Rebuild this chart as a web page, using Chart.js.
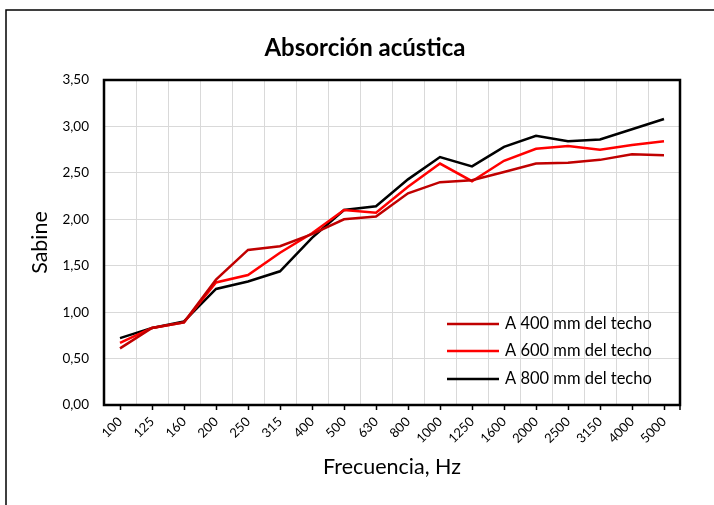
<!DOCTYPE html>
<html>
<head>
<meta charset="utf-8">
<script src="https://cdn.jsdelivr.net/npm/chart.js@4/dist/chart.umd.min.js"></script>
<style>
html,body{margin:0;padding:0;background:#fff;}
#wrap{width:714px;height:505px;position:relative;}
</style>
</head>
<body>
<div id="wrap"><canvas id="c" width="714" height="505"></canvas></div>
<script>
const categories = ["100","125","160","200","250","315","400","500","630","800","1000","1250","1600","2000","2500","3150","4000","5000"];
const seriesLabels = ["A 400 mm del techo","A 600 mm del techo","A 800 mm del techo"];
const a400 = [0.61,0.83,0.89,1.35,1.67,1.71,1.84,2.00,2.03,2.28,2.40,2.42,2.51,2.60,2.61,2.64,2.70,2.69];
const a600 = [0.67,0.83,0.89,1.32,1.40,1.64,1.85,2.10,2.07,2.35,2.60,2.41,2.63,2.76,2.79,2.75,2.80,2.84];
const a800 = [0.72,0.83,0.90,1.25,1.33,1.44,1.80,2.10,2.14,2.43,2.67,2.57,2.78,2.90,2.84,2.86,2.97,3.08];
const yTicks = [0,0.5,1,1.5,2,2.5,3,3.5];
const chartTitle = 'Absorción acústica';
const colors = ["#C00000","#FF0000","#000000"];
const FONT = "Lato, 'Open Sans', 'DejaVu Sans', sans-serif";

const frame = {
  id:'frame',
  beforeDraw(chart){
    const ctx = chart.ctx;
    ctx.save();
    ctx.strokeStyle = '#000';
    ctx.lineWidth = 1.5;
    ctx.beginPath();
    ctx.moveTo(6, 510);
    ctx.lineTo(6, 10);
    ctx.lineTo(720, 10);
    ctx.stroke();
    ctx.fillStyle = '#000';
    ctx.font = "bold 24px " + FONT;
    ctx.textAlign = 'center';
    ctx.textBaseline = 'middle';
    ctx.fillText(chartTitle, 365, 48);
    ctx.restore();
  },
  afterDraw(chart){
    const ctx = chart.ctx, a = chart.chartArea;
    const xs = chart.scales.x;
    ctx.save();
    ctx.strokeStyle = '#000';
    ctx.lineWidth = 2.5;
    ctx.strokeRect(a.left, a.top, a.right - a.left, a.bottom - a.top);
    ctx.lineWidth = 1.5;
    ctx.beginPath();
    for (let i = 0; i < categories.length; i++) {
      const px = Math.round(xs.getPixelForValue(i)) + 0.5;
      ctx.moveTo(px, a.bottom);
      ctx.lineTo(px, a.bottom + 5);
    }
    ctx.moveTo(a.right, a.bottom);
    ctx.lineTo(a.right, a.bottom + 5);
    ctx.stroke();
    // legend
    const lx1 = 447, lx2 = 499, ys = [324, 351, 379];
    ctx.font = "16.5px " + FONT;
    ctx.textBaseline = 'middle';
    ctx.textAlign = 'left';
    chart.data.datasets.forEach((d, i) => {
      ctx.strokeStyle = d.borderColor;
      ctx.lineWidth = 2.5;
      ctx.beginPath();
      ctx.moveTo(lx1, ys[i]);
      ctx.lineTo(lx2, ys[i]);
      ctx.stroke();
      ctx.fillStyle = '#000';
      ctx.fillText(d.label, 505, ys[i]);
    });
    ctx.restore();
  }
};

new Chart(document.getElementById('c'), {
  type: 'line',
  data: {
    labels: categories,
    datasets: [
      {label: seriesLabels[0], data: a400, borderColor: colors[0], backgroundColor: colors[0]},
      {label: seriesLabels[1], data: a600, borderColor: colors[1], backgroundColor: colors[1]},
      {label: seriesLabels[2], data: a800, borderColor: colors[2], backgroundColor: colors[2]}
    ]
  },
  options: {
    responsive: false,
    animation: false,
    layout: {padding: {left: 0, right: 34, top: 80, bottom: 0}},
    elements: {
      line: {borderWidth: 2.5, tension: 0},
      point: {radius: 0, hoverRadius: 0}
    },
    plugins: {
      legend: {display: false},
      tooltip: {enabled: false},
      title: {display: false}
    },
    scales: {
      x: {
        type: 'category',
        offset: true,
        grid: {offset: true, color: '#D9D9D9', lineWidth: 1, drawTicks: false},
        border: {display: false},
        ticks: {
          color: '#000',
          font: {family: FONT, size: 13},
          minRotation: 45, maxRotation: 45,
          padding: 9,
          autoSkip: false
        },
        title: {
          display: true,
          text: 'Frecuencia, Hz',
          color: '#000',
          font: {family: FONT, size: 21.5},
          padding: {top: 0, bottom: 25}
        },
        afterFit(s){ s.height = 100; }
      },
      y: {
        min: 0, max: 3.5,
        afterBuildTicks(s){ s.ticks = yTicks.map(v => ({value: v})); },
        grid: {color: '#D9D9D9', lineWidth: 1, drawTicks: false},
        border: {display: false},
        ticks: {
          color: '#000',
          font: {family: FONT, size: 13.5},
          padding: 15,
          callback: v => v.toFixed(2).replace('.', ',')
        },
        title: {
          display: true,
          text: 'Sabine',
          color: '#000',
          font: {family: FONT, size: 21.5},
          padding: {top: 27, bottom: 0}
        },
        afterFit(s){ s.width = 104; }
      }
    }
  },
  plugins: [frame]
});
</script>
</body>
</html>
